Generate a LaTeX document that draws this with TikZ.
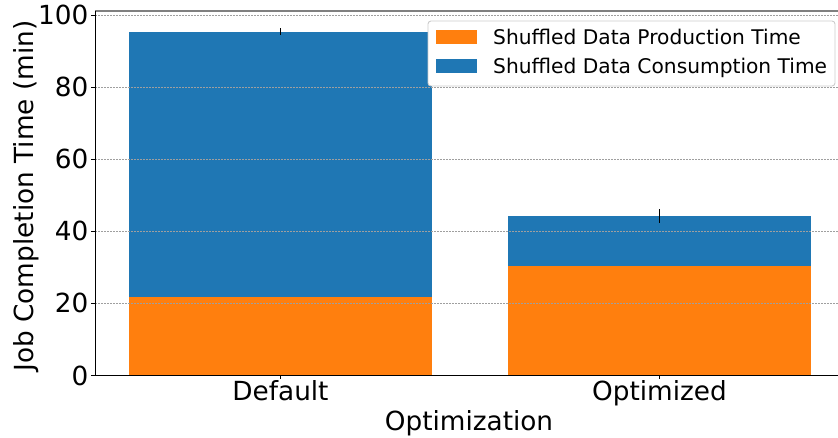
\documentclass[tikz,border=0pt]{standalone}
\usepackage{fontspec}
\setmainfont{DejaVu Sans}
\definecolor{prodorange}{HTML}{FF7F0E}
\definecolor{consblue}{HTML}{1F77B4}
\definecolor{legendframe}{HTML}{CCCCCC}
\tikzset{
  gridline/.style={draw=gray!75, line width=0.8pt, dash pattern=on 2pt off 1pt},
  spine/.style={draw=black, line width=1pt},
  tickmark/.style={draw=black, line width=0.9pt},
  ticklabel/.style={font=\fontsize{26.3}{30}\selectfont, inner sep=0pt},
  axislabel/.style={font=\fontsize{26.3}{30}\selectfont, inner sep=0pt},
  legendtext/.style={font=\fontsize{20.2}{24}\selectfont, inner sep=0pt, anchor=base west},
  errbar/.style={draw=black, line width=1.3pt},
}
\begin{document}
\begin{tikzpicture}[x=1pt,y=1pt]
\useasboundingbox (0,0) rectangle (838,437);
% data coordinates: one y unit = one minute
\begin{scope}[y=3.605pt, shift={(0pt,61.5pt)}]
  % stacked bars
  \fill[prodorange] (129,0) rectangle (432,21.86);
  \fill[consblue]   (129,21.86) rectangle (432,95.3);
  \fill[prodorange] (508,0) rectangle (811,30.4);
  \fill[consblue]   (508,30.4) rectangle (811,44.2);
  % horizontal grid
  \foreach \v in {20,40,60,80,100}
    \draw[gridline] (95,\v) -- (838,\v);
  % error bars
  \draw[errbar] (280.5,94.5) -- (280.5,96.4);
  \draw[errbar] (659.5,42.4) -- (659.5,46.2);
  % spines
  \draw[draw=gray, line width=1.2pt] (95,101.1) -- (838,101.1);
  \draw[spine] (95,101.1) -- (95,0) -- (838,0);
  % y ticks and labels
  \foreach \v in {0,20,40,60,80,100} {
    \draw[tickmark] (95,\v) -- (90.5,\v);
    \node[ticklabel, anchor=east] (yt\v) at (88.5,\v) {\v};
  }
  % x ticks
  \draw[tickmark] (280.5,0) -- (280.5,-1.0);
  \draw[tickmark] (659.5,0) -- (659.5,-1.0);
\end{scope}
% x tick labels
\node[ticklabel, anchor=base] (xdef) at (280.5,36.3) {Default};
\node[ticklabel, anchor=base] (xopt) at (659.5,36.3) {Optimized};
% axis titles
\node[axislabel, anchor=base] (xlab) at (469,7) {Optimization};
\node[axislabel, anchor=base, rotate=90] (ylab) at (33,241) {Job Completion Time (min)};
% legend
\draw[legendframe, fill=white, line width=0.9pt, rounded corners=3pt] (428,351) rectangle (835,416);
\fill[prodorange] (436,393) rectangle (477,407);
\fill[consblue]   (436,364) rectangle (477,378);
\node[legendtext] (lprod) at (493,392.7) {Shuffled Data Production Time};
\node[legendtext] (lcons) at (493,363.7) {Shuffled Data Consumption Time};
\end{tikzpicture}
\end{document}
